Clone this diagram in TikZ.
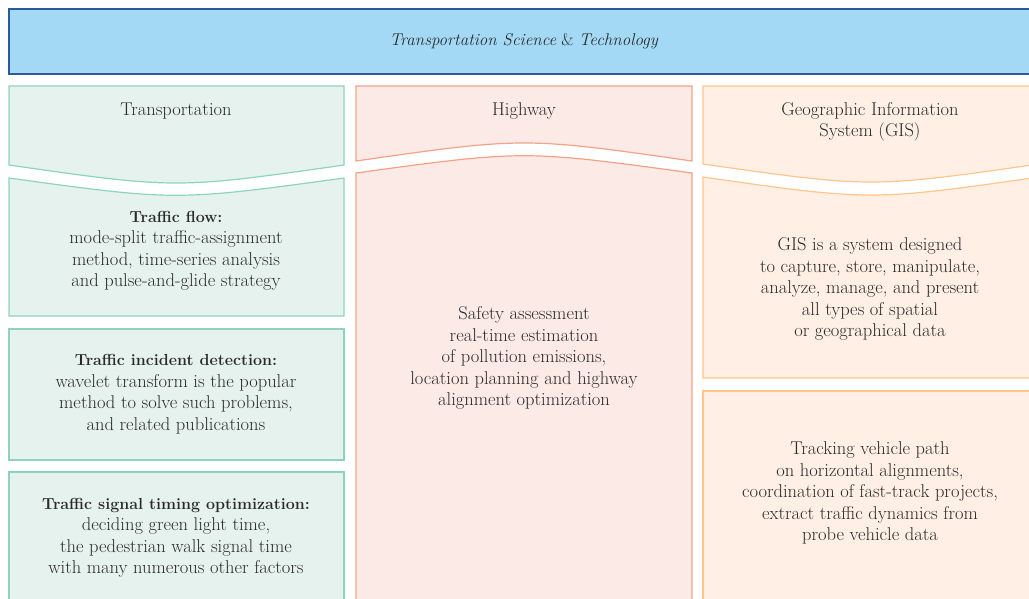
\documentclass[tikz,border=0pt]{standalone}
\usepackage{tikz}

\definecolor{barfill}{HTML}{A3D9F5}
\definecolor{bardraw}{HTML}{2B5A9B}
\definecolor{greenfill}{HTML}{E6F2EE}
\definecolor{greendraw}{HTML}{8DD4BE}
\definecolor{redfill}{HTML}{FBEAE6}
\definecolor{reddraw}{HTML}{F4A188}
\definecolor{orangefill}{HTML}{FFEFE4}
\definecolor{orangedraw}{HTML}{FFC68C}
\definecolor{txt}{HTML}{2A2A2A}

% bold first line of a box
\newcommand{\boxhead}[1]{{\fontsize{16}{21.5}\selectfont\bfseries #1}}

\begin{document}
\begin{tikzpicture}[x=1pt,y=-1pt,
  greenbox/.style={fill=greenfill,draw=greendraw,line width=1.2pt},
  redbox/.style={fill=redfill,draw=reddraw,line width=1.2pt},
  orangebox/.style={fill=orangefill,draw=orangedraw,line width=1.2pt},
  label/.style={text=txt,align=center,font=\fontsize{18.5}{21.5}\selectfont}]

\useasboundingbox (0,0) rectangle (1029,598);
\clip (0,0) rectangle (1029,598);

% top bar
\filldraw[fill=barfill,draw=bardraw,line width=1.5pt] (9,9) rectangle (1045,74);
\node[label,font=\fontsize{17}{21}\selectfont] (title) at (524,41) {\textit{Transportation Science} \& \textit{Technology}};

% left column
\filldraw[greenbox] (9,86) -- (344,86) -- (344,165) .. controls (176,189) .. (9,165) -- cycle;
\filldraw[greenbox] (9,178) .. controls (176,201) .. (344,178) -- (344,316) -- (9,316) -- cycle;
\filldraw[greenbox] (9,329) rectangle (344,460);
\filldraw[greenbox] (9,472) rectangle (344,610);

\node[label] (transport) at (176,111) {Transportation};
\node[label] (flow) at (176,251) {\boxhead{Traffic flow:}\\mode-split traffic-assignment\\method, time-series analysis\\and pulse-and-glide strategy};
\node[label] (incident) at (176,394) {\boxhead{Traffic incident detection:}\\wavelet transform is the popular\\method to solve such problems,\\and related publications};
\node[label] (signal) at (176,538) {\boxhead{Traffic signal timing optimization:}\\deciding green light time,\\the pedestrian walk signal time\\with many numerous other factors};

% middle column
\filldraw[redbox] (356,86) -- (692,86) -- (692,161) .. controls (524,137) .. (356,161) -- cycle;
\filldraw[redbox] (356,173) .. controls (524,150) .. (692,173) -- (692,610) -- (356,610) -- cycle;

\node[label] (highway) at (524,111) {Highway};
\node[label] (safety) at (524,358) {Safety assessment\\real-time estimation\\of pollution emissions,\\location planning and highway\\alignment optimization};

% right column
\filldraw[orangebox] (703,86) -- (1039,86) -- (1039,164) .. controls (871,188) .. (703,164) -- cycle;
\filldraw[orangebox] (703,177) .. controls (871,201) .. (1039,177) -- (1039,378) -- (703,378) -- cycle;
\filldraw[orangebox] (703,391) rectangle (1039,610);

\node[label] (gis) at (870,122) {Geographic Information\\System (GIS)};
\node[label] (gisdef) at (870,289) {GIS is a system designed\\to capture, store, manipulate,\\analyze, manage, and present\\all types of spatial\\or geographical data};
\node[label] (tracking) at (870,493) {Tracking vehicle path\\on horizontal alignments,\\coordination of fast-track projects,\\extract traffic dynamics from\\probe vehicle data};

\end{tikzpicture}
\end{document}
